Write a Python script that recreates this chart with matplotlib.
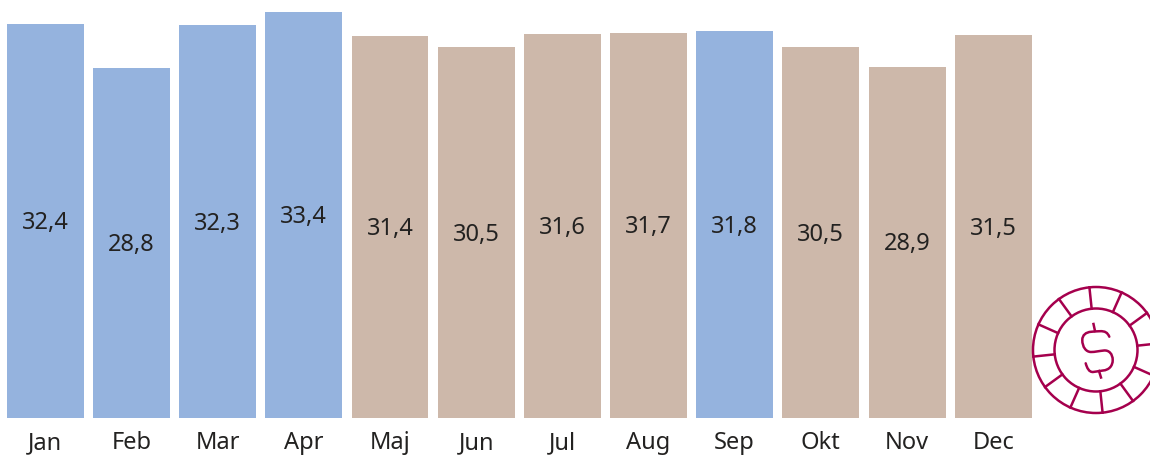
import matplotlib
matplotlib.use("Agg")
import matplotlib.pyplot as plt
import numpy as np
from matplotlib.patches import Circle, PathPatch
from matplotlib.path import Path

months = ["Jan", "Feb", "Mar", "Apr", "Maj", "Jun", "Jul", "Aug", "Sep", "Okt", "Nov", "Dec"]
values = [32.4, 28.8, 32.3, 33.4, 31.4, 30.5, 31.6, 31.7, 31.8, 30.5, 28.9, 31.5]
labels = ["32,4", "28,8", "32,3", "33,4", "31,4", "30,5", "31,6", "31,7", "31,8", "30,5", "28,9", "31,5"]
highlight = ["Jan", "Feb", "Mar", "Apr", "Sep"]

BLUE = "#95b3de"
TAN = "#cdb8aa"
CRIMSON = "#a5004d"
TEXT = "#232221"

W, H = 1150, 455
plt.rcParams["font.family"] = ["Noto Sans", "DejaVu Sans"]
fig = plt.figure(figsize=(W / 100, H / 100), dpi=100)

# bars, axes placed in pixels so the baseline sits at y=418
ax = fig.add_axes([2.2 / W, (H - 418) / H, (1036.3 - 2.2) / W, (418 - 12) / H])
colors = [BLUE if m in highlight else TAN for m in months]
x = np.arange(len(months))
bars = ax.bar(x, values, width=0.893, color=colors)
ax.bar_label(bars, labels=labels, label_type="center", fontsize=17, color=TEXT, padding=-1.5)
ax.set_xlim(-0.5, 11.5)
ax.set_ylim(0, 33.4)
ax.set_xticks(x, months)
ax.set_yticks([])
ax.tick_params(axis="x", length=0, pad=9.5, labelsize=17, labelcolor=TEXT)
for spine in ax.spines.values():
    spine.set_visible(False)

# coin icon, cut by the right edge of the figure
icon = fig.add_axes([0, 0, 1, 1], zorder=3)
icon.set_xlim(0, W)
icon.set_ylim(H, 0)
icon.axis("off")
cx, cy = 1096, 350
r_out, r_in = 63, 41.5
lw = 1.8
for r in (r_out, r_in):
    icon.add_patch(Circle((cx, cy), r, fill=False, ec=CRIMSON, lw=lw))
for a in np.deg2rad(np.arange(6, 366, 30)):
    icon.plot([cx + r_in * np.cos(a), cx + r_out * np.cos(a)],
              [cy - r_in * np.sin(a), cy - r_out * np.sin(a)],
              color=CRIMSON, lw=lw)

# dollar sign, offsets from the coin centre
s_verts = [(13.3, -13.3),
           (11.5, -17.5), (9, -19), (4, -18.8),
           (1, -18.7), (-2, -18.5), (-5, -18.2),
           (-10, -17.8), (-13.7, -15), (-13.7, -10),
           (-13.7, -3), (-10, 2), (-5, 2),
           (-1, 2), (3, 1), (8, 0.5),
           (13, 0), (16.7, 4), (16.7, 10),
           (16.7, 16), (13, 20), (7, 20.5),
           (3, 21), (0, 21.7), (-3, 22),
           (-7, 22.2), (-9, 18), (-10.3, 13.3)]
s_codes = [Path.MOVETO] + [Path.CURVE4] * (len(s_verts) - 1)
icon.add_patch(PathPatch(Path([(cx + a, cy + b) for a, b in s_verts], s_codes),
                         fill=False, ec=CRIMSON, lw=lw, capstyle="round"))
icon.plot([cx - 2.5, cx - 1], [cy - 26, cy - 19], color=CRIMSON, lw=lw)
icon.plot([cx + 3, cx + 5], [cy + 21, cy + 27.5], color=CRIMSON, lw=lw)

fig.savefig("out.png", dpi=100)
